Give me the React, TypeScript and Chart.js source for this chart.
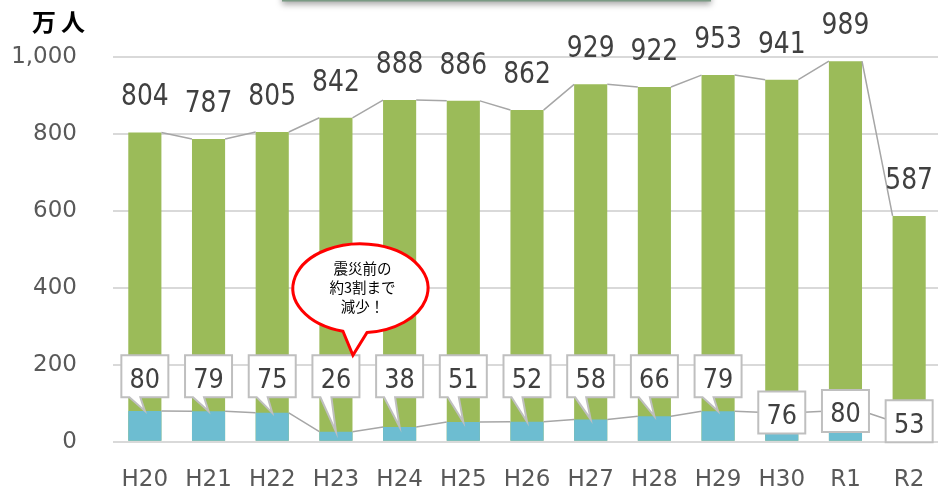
import React, { useEffect, useRef } from "react";
import { Chart, registerables } from "chart.js";

Chart.register(...registerables);

const categories = ["H20", "H21", "H22", "H23", "H24", "H25", "H26", "H27", "H28", "H29", "H30", "R1", "R2"];
const totalVisitors = [804, 787, 805, 842, 888, 886, 862, 929, 922, 953, 941, 989, 587];
const foreignVisitors = [80, 79, 75, 26, 38, 51, 52, 58, 66, 79, 76, 80, 53];
const yTickLabels = ["0", "200", "400", "600", "800", "1,000"];
const yAxisTitle = "万人";
const calloutLines = ["震災前の", "約3割まで", "減少！"];
const calloutCategory = "H23";
const tailLabelCount = 10;

const GREEN = "#9bbb59";
const BLUE = "#6dbdd1";
const LABEL_COLOR = "#404040";
const TICK_COLOR = "#595959";

function stretchedText(ctx: CanvasRenderingContext2D, text: string, x: number, baselineY: number, sy: number) {
  ctx.save();
  ctx.translate(x, baselineY);
  ctx.scale(1, sy);
  ctx.fillText(text, 0, 0);
  ctx.restore();
}

const overlayPlugin = {
  id: "overlay",
  afterDatasetsDraw(chart: any) {
    const ctx: CanvasRenderingContext2D = chart.ctx;
    const ys = chart.scales.y;
    const blueMeta = chart.getDatasetMeta(0);
    const greenMeta = chart.getDatasetMeta(1);

    // series lines
    ctx.save();
    ctx.strokeStyle = "#a6a6a6";
    ctx.lineWidth = 1.5;
    [greenMeta, blueMeta].forEach((meta: any) => {
      ctx.beginPath();
      for (let i = 0; i < meta.data.length - 1; i++) {
        const a = meta.data[i];
        const b = meta.data[i + 1];
        ctx.moveTo(a.x + a.width / 2, a.y);
        ctx.lineTo(b.x - b.width / 2, b.y);
      }
      ctx.stroke();
    });
    ctx.restore();

    // green value labels
    ctx.save();
    ctx.font = "25px 'DejaVu Sans'";
    ctx.fillStyle = LABEL_COLOR;
    ctx.textAlign = "center";
    ctx.textBaseline = "alphabetic";
    greenMeta.data.forEach((bar: any, i: number) => {
      stretchedText(ctx, String(totalVisitors[i]), bar.x, bar.y - 27, 1.18);
    });
    ctx.restore();

    // blue callout labels
    const bw = 47;
    const bh = 42;
    let calloutTip = { x: 0, y: 0 };
    ctx.save();
    blueMeta.data.forEach((bar: any, i: number) => {
      const withTail = i < tailLabelCount;
      const cx = bar.x;
      const cy = withTail ? ys.getPixelForValue(170) : bar.y;
      const l = cx - bw / 2;
      const r = cx + bw / 2;
      const t = cy - bh / 2;
      const b = cy + bh / 2;
      ctx.beginPath();
      ctx.moveTo(l, t);
      ctx.lineTo(r, t);
      ctx.lineTo(r, b);
      if (withTail) {
        ctx.lineTo(l + 19, b);
        ctx.lineTo(bar.x, bar.y);
        ctx.lineTo(l + 8, b);
      }
      ctx.lineTo(l, b);
      ctx.closePath();
      ctx.fillStyle = "#ffffff";
      ctx.fill();
      ctx.strokeStyle = "#bfbfbf";
      ctx.lineWidth = 2;
      ctx.lineJoin = "miter";
      ctx.stroke();
      ctx.font = "24px 'DejaVu Sans'";
      ctx.fillStyle = LABEL_COLOR;
      ctx.textAlign = "center";
      ctx.textBaseline = "alphabetic";
      stretchedText(ctx, String(foreignVisitors[i]), cx, cy + 11.5, 1.12);
      if (categories[i] === calloutCategory) {
        calloutTip = { x: cx + 17, y: t };
      }
    });
    ctx.restore();

    // speech bubble
    const ecx = calloutTip.x + 7.5;
    const ecy = calloutTip.y - 67;
    const rx = 67.5;
    const ry = 44.5;
    const a1 = (105 * Math.PI) / 180;
    const a2 = ((84.5 + 360) * Math.PI) / 180;
    ctx.save();
    ctx.beginPath();
    ctx.ellipse(ecx, ecy, rx, ry, 0, a1, a2, false);
    ctx.lineTo(calloutTip.x, calloutTip.y);
    ctx.closePath();
    ctx.fillStyle = "#ffffff";
    ctx.fill();
    ctx.strokeStyle = "#ff0000";
    ctx.lineWidth = 3;
    ctx.lineJoin = "miter";
    ctx.stroke();
    ctx.fillStyle = "#000000";
    ctx.font = "14.5px 'Noto Sans CJK JP'";
    ctx.textAlign = "center";
    ctx.textBaseline = "middle";
    calloutLines.forEach((line, k) => {
      ctx.fillText(line, ecx + 2, ecy - 20 + k * 19);
    });
    ctx.restore();

    // y axis title
    ctx.save();
    ctx.font = "bold 24px 'Noto Sans CJK JP'";
    ctx.fillStyle = "#000000";
    ctx.textAlign = "left";
    ctx.textBaseline = "middle";
    (ctx as any).letterSpacing = "5px";
    ctx.fillText(yAxisTitle, 32, 22);
    ctx.restore();

    // top decorative box edge (cropped shape)
    ctx.save();
    ctx.shadowColor = "rgba(0,0,0,0.35)";
    ctx.shadowBlur = 6;
    ctx.shadowOffsetY = 3;
    ctx.fillStyle = "#7a9a84";
    ctx.fillRect(282, -10, 429, 11.5);
    ctx.restore();
  },
};

export default function App() {
  const ref = useRef<HTMLCanvasElement | null>(null);

  useEffect(() => {
    if (!ref.current) return;
    const chart = new Chart(ref.current, {
      type: "bar",
      data: {
        labels: categories,
        datasets: [
          {
            label: "外国人",
            data: foreignVisitors,
            backgroundColor: BLUE,
            grouped: false,
            barPercentage: 0.52,
            categoryPercentage: 1,
          } as any,
          {
            label: "総数",
            data: totalVisitors,
            backgroundColor: GREEN,
            grouped: false,
            barPercentage: 0.52,
            categoryPercentage: 1,
          } as any,
        ],
      },
      options: {
        responsive: false,
        animation: false,
        layout: { padding: { top: 57, left: 0, right: 0, bottom: 0 } },
        plugins: {
          legend: { display: false },
          tooltip: { enabled: false },
          title: { display: false },
        },
        scales: {
          x: {
            grid: { display: false, drawTicks: true, tickLength: 25 },
            border: { display: false },
            ticks: {
              font: { family: "'DejaVu Sans'", size: 23 },
              color: TICK_COLOR,
              padding: 0,
              maxRotation: 0,
              autoSkip: false,
            },
            afterFit(scale: any) {
              scale.height = 50.3;
            },
          },
          y: {
            min: 0,
            max: 1000,
            ticks: {
              stepSize: 200,
              font: { family: "'DejaVu Sans'", size: 23 },
              color: TICK_COLOR,
              padding: 36,
              callback: (_v: any, i: number) => yTickLabels[i],
            },
            grid: { color: "#d9d9d9", lineWidth: 2, drawTicks: false },
            border: { display: false },
            afterFit(scale: any) {
              scale.width = 113;
            },
          },
        },
      },
      plugins: [overlayPlugin],
    });
    return () => chart.destroy();
  }, []);

  return (
    <div
      style={{
        position: "fixed",
        left: 0,
        top: 0,
        width: 938,
        height: 492,
        overflow: "hidden",
        background: "#ffffff",
      }}
    >
      <canvas ref={ref} width={941} height={492} style={{ display: "block" }} />
    </div>
  );
}
